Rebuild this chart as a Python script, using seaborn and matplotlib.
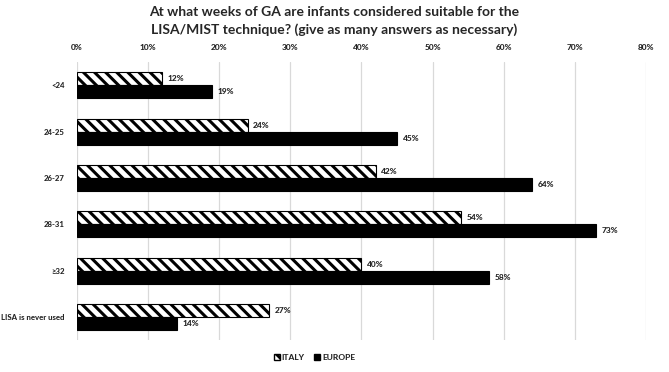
# Recreation: GA weeks suitable for LISA/MIST, Italy vs Europe
import seaborn as sns
import matplotlib.pyplot as plt
import pandas as pd
from matplotlib.patches import Patch

categories = ["<24", "24-25", "26-27", "28-31", "≥32", "LISA is never used"]
italy = [12, 24, 42, 54, 40, 27]
europe = [19, 45, 64, 73, 58, 14]
series = ["ITALY", "EUROPE"]

df = pd.DataFrame({
    "cat": categories * 2,
    "val": italy + europe,
    "grp": [series[0]] * len(categories) + [series[1]] * len(categories),
})

sns.set_style("white")
plt.rcParams["font.family"] = ["Lato", "DejaVu Sans"]
plt.rcParams["hatch.linewidth"] = 2.2

fig = plt.figure(figsize=(6.69, 3.72), dpi=100)
ax = fig.add_axes([0.115, 0.086, 0.8505, 0.747])

sns.barplot(data=df, y="cat", x="val", hue="grp", orient="h", width=0.56,
            palette={"ITALY": "white", "EUROPE": "black"}, ax=ax,
            legend=False, saturation=1)

n = len(categories)
for i, p in enumerate(ax.patches[:2 * n]):
    p.set_edgecolor("black")
    p.set_linewidth(0.8)
    if i < n:
        p.set_hatch("\\\\\\")

for cont in ax.containers:
    ax.bar_label(cont, labels=[f"{v:.0f}%" for v in cont.datavalues],
                 padding=4, fontsize=6, fontweight="black")

ax.set_xlim(0, 80)
ax.set_xticks(range(0, 81, 10))
ax.set_xticklabels([f"{t}%" for t in range(0, 81, 10)], fontsize=6, fontweight="black")
ax.xaxis.tick_top()
ax.tick_params(axis="x", length=0, pad=8)
ax.set_yticks(range(n))
ax.set_yticklabels(categories, fontsize=5.6, fontweight="black")
ax.tick_params(axis="y", length=0, pad=9)
ax.set_xlabel("")
ax.set_ylabel("")
ax.grid(axis="x", color="#d9d9d9", linewidth=0.9)
ax.set_axisbelow(True)
for s in ax.spines.values():
    s.set_visible(False)

fig.suptitle("At what weeks of GA are infants considered suitable for the\n"
             "LISA/MIST technique? (give as many answers as necessary)",
             fontsize=10, fontweight="bold", y=0.985, x=0.5, linespacing=1.5)

handles = [Patch(facecolor="white", edgecolor="black", hatch="\\\\\\", label="ITALY"),
           Patch(facecolor="black", edgecolor="black", label="EUROPE")]
fig.legend(handles=handles, loc="center", bbox_to_anchor=(0.47, 0.04), ncol=2,
           frameon=False, handlelength=0.7, handleheight=0.7, handletextpad=0.2,
           columnspacing=1.2, prop={"size": 6, "weight": "black"})

fig.savefig("out.png", dpi=100)
